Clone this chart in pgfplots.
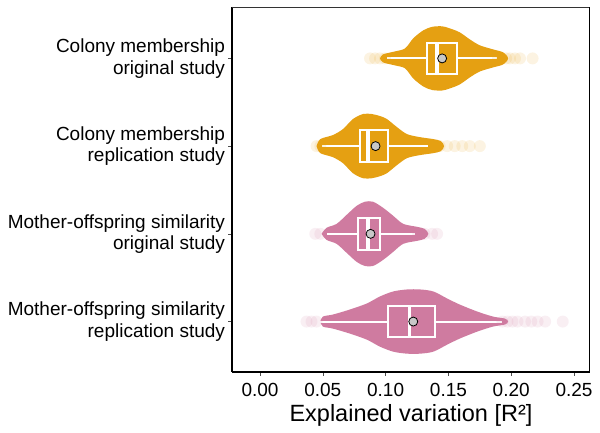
\documentclass[border=0pt]{standalone}
\usepackage{fontspec}
\setmainfont{Liberation Sans}
\usepackage{pgfplots}
\pgfplotsset{compat=1.18}
\usepgfplotslibrary{statistics}
\definecolor{vorange}{RGB}{229,160,18}
\definecolor{vpink}{RGB}{207,123,160}
\definecolor{meangray}{RGB}{200,200,200}
\begin{document}
\begin{tikzpicture}
\begin{axis}[name=ax, scale only axis, width=358pt, height=365pt,
  xmin=-0.0223, xmax=0.2627, ymin=0.414, ymax=4.575, y dir=reverse,
  axis lines*=left,
  axis line style={line width=2.4pt, -},
  xtick={0,0.05,0.1,0.15,0.2,0.25},
  /pgf/number format/assume math mode=true,
  xticklabel style={/pgf/number format/fixed, /pgf/number format/fixed zerofill, /pgf/number format/precision=2, font=\fontsize{19}{22}\selectfont, yshift=-4pt},
  ytick={1,2,3,4},
  yticklabels={{Colony membership\\original study},{Colony membership\\replication study},{Mother-offspring similarity\\original study},{Mother-offspring similarity\\replication study}},
  yticklabel style={align=right, font=\fontsize{19}{21.5}\selectfont},
  tick style={black!70, line width=0.6pt}, tick align=outside, major tick length=3.5pt,
  tick pos=left,
  xlabel={Explained variation [R²]}, xlabel style={font=\fontsize{23.5}{26}\selectfont, yshift=-1pt},
  boxplot/draw direction=x,
  boxplot/whisker extend=0,
  boxplot/box extend=0.36,
]
% violins
\addplot[fill=vorange, draw=none, smooth, tension=0.5] coordinates {
(0.0955,1) (0.098,0.954) (0.1075,0.92) (0.1155,0.886) (0.122,0.771) (0.130,0.68) (0.137,0.64) (0.145,0.634) (0.151,0.657) (0.159,0.703) (0.167,0.783) (0.175,0.851) (0.1855,0.897) (0.1935,0.931) (0.1975,1)
(0.1935,1.069) (0.1855,1.103) (0.175,1.149) (0.167,1.217) (0.159,1.297) (0.151,1.343) (0.145,1.366) (0.137,1.36) (0.130,1.32) (0.122,1.229) (0.1155,1.114) (0.1075,1.08) (0.098,1.046) (0.0955,1)} -- cycle;
\addplot[fill=vorange, draw=none, smooth, tension=0.5] coordinates {
(0.045,2) (0.048,1.92) (0.058,1.874) (0.066,1.806) (0.074,1.691) (0.082,1.634) (0.089,1.634) (0.0955,1.657) (0.101,1.691) (0.109,1.783) (0.117,1.863) (0.127,1.897) (0.138,1.92) (0.144,1.943) (0.1465,2)
(0.144,2.057) (0.138,2.08) (0.127,2.103) (0.117,2.137) (0.109,2.217) (0.101,2.309) (0.0955,2.343) (0.089,2.366) (0.082,2.366) (0.074,2.309) (0.066,2.194) (0.058,2.126) (0.048,2.08) (0.045,2)} -- cycle;
\addplot[fill=vpink, draw=none, smooth, tension=0.5] coordinates {
(0.049,3) (0.053,2.931) (0.061,2.886) (0.069,2.783) (0.077,2.68) (0.0835,2.634) (0.090,2.634) (0.098,2.703) (0.106,2.794) (0.114,2.886) (0.125,2.92) (0.131,2.943) (0.134,3)
(0.131,3.057) (0.125,3.08) (0.114,3.114) (0.106,3.206) (0.098,3.297) (0.090,3.366) (0.0835,3.366) (0.077,3.32) (0.069,3.217) (0.061,3.114) (0.053,3.069) (0.049,3)} -- cycle;
\addplot[fill=vpink, draw=none, smooth, tension=0.5] coordinates {
(0.048,4) (0.050,3.943) (0.058,3.92) (0.0715,3.863) (0.085,3.794) (0.0955,3.714) (0.106,3.657) (0.117,3.634) (0.1275,3.634) (0.138,3.657) (0.149,3.737) (0.159,3.806) (0.173,3.886) (0.1855,3.943) (0.195,3.966) (0.1975,4)
(0.195,4.034) (0.1855,4.057) (0.173,4.114) (0.159,4.194) (0.149,4.263) (0.138,4.343) (0.1275,4.366) (0.117,4.366) (0.106,4.343) (0.0955,4.286) (0.085,4.206) (0.0715,4.137) (0.058,4.08) (0.050,4.057) (0.048,4)} -- cycle;
% outliers
\addplot[only marks, mark=*, mark size=6, mark options={draw opacity=0, fill=vorange, fill opacity=0.12}] coordinates {
(0.0876,1) (0.0916,1) (0.0955,1) (0.0995,1) (0.1895,1) (0.1927,1) (0.1959,1) (0.199,1) (0.203,1) (0.207,1) (0.217,1)
(0.045,2) (0.048,2) (0.143,2) (0.149,2) (0.155,2) (0.161,2) (0.167,2) (0.175,2)};
\addplot[only marks, mark=*, mark size=6, mark options={draw opacity=0, fill=vpink, fill opacity=0.12}] coordinates {
(0.044,3) (0.048,3) (0.126,3) (0.131,3) (0.137,3) (0.141,3)
(0.037,4) (0.041,4) (0.045,4) (0.193,4) (0.197,4) (0.201,4) (0.205,4) (0.211,4) (0.216,4) (0.221,4) (0.227,4) (0.241,4)};
% boxes
\addplot[fill=vorange, draw=white, line width=2pt, boxplot/every median/.style={line width=3.5pt},
  boxplot prepared={lower whisker=0.101, lower quartile=0.133, median=0.141, upper quartile=0.157, upper whisker=0.189, draw position=1}] coordinates {};
\addplot[fill=vorange, draw=white, line width=2pt, boxplot/every median/.style={line width=3.5pt},
  boxplot prepared={lower whisker=0.049, lower quartile=0.0796, median=0.086, upper quartile=0.102, upper whisker=0.134, draw position=2}] coordinates {};
\addplot[fill=vpink, draw=white, line width=2pt, boxplot/every median/.style={line width=3.5pt},
  boxplot prepared={lower whisker=0.053, lower quartile=0.078, median=0.086, upper quartile=0.0955, upper whisker=0.123, draw position=3}] coordinates {};
\addplot[fill=vpink, draw=white, line width=2pt, boxplot/every median/.style={line width=3.5pt},
  boxplot prepared={lower whisker=0.048, lower quartile=0.102, median=0.119, upper quartile=0.139, upper whisker=0.193, draw position=4}] coordinates {};
% means
\addplot[only marks, mark=*, mark size=4.5, mark options={fill=meangray, draw=black, line width=0.8pt}] coordinates {(0.145,1) (0.092,2) (0.088,3) (0.122,4)};
% frame: thin top, thick right
\draw[black!80, line width=0.8pt] (rel axis cs:0,1) -- (rel axis cs:1,1);
\draw[black, line width=2.4pt] (rel axis cs:1,-0.0033) -- (rel axis cs:1,1);
\end{axis}
\pgfresetboundingbox
\path ([xshift=-232pt,yshift=-61pt]ax.south west) rectangle ([xshift=10pt,yshift=7pt]ax.north east);
\end{tikzpicture}
\end{document}
